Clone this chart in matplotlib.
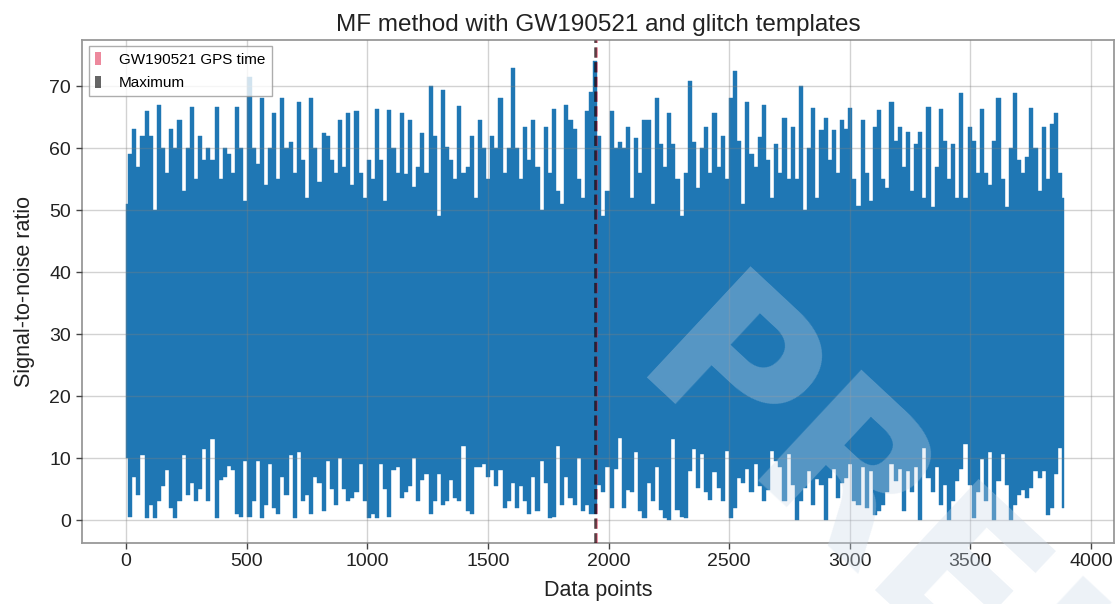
import numpy as np
import matplotlib
matplotlib.use("Agg")
import matplotlib.pyplot as plt
from matplotlib.patches import Patch

# SNR readings per short stretch of samples: local max (upper) and local min (lower)
upper_snr = [
    51, 59, 63, 57, 62, 66, 62, 50, 67, 60,
    56, 63, 60, 64.5, 53, 60, 66.6, 55, 62, 58,
    60, 58, 66.6, 55, 60, 59, 56, 66.6, 60, 51.5,
    71.5, 60, 57.5, 68, 54, 60, 65.6, 55, 68, 60,
    61, 56, 67.5, 58, 52, 68, 60, 54.5, 62.5, 62,
    58, 56, 64.5, 57, 65.6, 54, 66, 56, 52, 58,
    55, 66.3, 58, 51.5, 66.1, 60, 56, 65.6, 55.8, 64.5,
    53.7, 57, 62.5, 56, 70, 62, 49, 69.4, 60.2, 58,
    55, 66.8, 56, 57, 62, 52, 64.5, 60, 55, 62,
    60, 68, 56, 60, 72.9, 60, 55, 63.4, 58, 64.5,
    57, 50, 63.4, 56, 66.3, 53, 51, 67,
    64.5, 63, 55, 52, 66, 69, 74, 62, 49, 53,
    66, 60, 61, 60, 63.4, 52, 61.6, 56, 64.5, 64.5,
    51, 68, 60.6, 57, 65.6, 60.6, 55, 49, 56, 70.8,
    61, 53.5, 60, 63.4, 56, 65.6, 57, 62, 55, 68,
    72.4, 61.2, 51, 67.5, 59, 57, 61.7, 66.9, 58, 52,
    60.6, 56, 64.9, 55, 63.4, 55, 70, 50, 60, 66.5,
    52, 62.9, 64.8, 58, 62.9, 56, 64.5, 63.1, 66.5, 55,
    50.6, 64.5, 56, 51.5, 63.4, 66.1, 55, 53.5, 67.5, 61.2,
    63.4, 57, 62.6, 53, 60.7, 62.6, 52, 66.6, 50.5, 57,
    66.3, 61.2, 55, 60.6, 52, 68.8, 52, 63.4, 61.2, 56,
    66.3, 56, 54, 61.2, 68, 55, 50.5, 60, 68.8, 58,
    56, 58.6, 66.5, 60, 53, 63.4, 55, 63.8, 65.6, 56,
    52,
]
lower_snr = [
    10, 0.5, 7, 4, 10.5, 0.3, 2.5, 0.3, 3, 5.5,
    8, 2, 0.3, 3, 10.5, 4, 6, 3, 5, 11.5,
    3, 13, 0.3, 6.5, 7, 8.7, 8, 1, 0.5, 9.5,
    0.5, 3, 9.5, 0.3, 2.5, 9, 2, 1, 7, 4,
    10.5, 0.3, 11, 3, 4, 1, 7, 6, 1.5, 9.5,
    5, 2.5, 10, 5, 3, 3.5, 4.5, 9, 3, 0.3,
    1, 0.3, 9, 5, 0.5, 8, 8.5, 3.5, 4.5, 5.5,
    10, 3, 6.5, 7.5, 1, 3, 7.5, 2.5, 3, 6.5,
    3.5, 3, 12, 1.5, 1, 8.5, 8.5, 9, 7, 8,
    5.5, 8, 2, 3, 6, 2, 5.5, 3, 1, 7,
    1.5, 9.5, 6, 0.3, 0.5, 12, 2.5, 7,
    3.5, 2.5, 10, 1.5, 2.5, 1, 1,
    5.7, 4.6, 8.5, 1.9, 8.2, 13.3, 1.9, 4.9, 4.6, 10.9,
    1.4, 0.3, 6, 3, 8.5, 1.6, 0.3, 0, 13,
    1.6, 0.5, 0.3, 7.9, 11.5, 5.2, 10.7, 4.6, 3.3, 7.7,
    5.2, 3, 11.2, 0.3, 1.9, 6.8, 6, 8.2, 4.6, 9,
    5.5, 3, 4.9, 11.2, 9.6, 8.5, 3, 10.7, 5.7,
    0, 3, 5.2, 7.9, 2.5, 6.6, 5.7, 0, 6.8, 8.2,
    3.6, 6, 6.8, 9, 3, 2.5, 8.5, 1.9, 7.9, 0.8,
    1.4, 2.5, 4.6, 9, 6.3, 8.2, 1.4, 7.9, 4.6, 8.5,
    0, 11.7, 6.8, 4.6, 8.5, 2.5, 5.7, 0, 3, 6.3,
    8.2, 12.3, 5.7, 0.3, 4.6, 9.8, 3, 10.9, 0, 6.3,
    10.7, 5.7, 0, 2.5, 4.1, 4.9, 3.6, 5.2, 7.9,
    6.8, 7.9, 0.8, 1.9, 7.4, 11.7, 1.9,
]
n_samples = 3890      # length of the SNR series
gps_index = 1950      # sample of the GW190521 GPS time

x_ticks = [0, 500, 1000, 1500, 2000, 2500, 3000, 3500, 4000]
y_ticks = [0, 10, 20, 30, 40, 50, 60, 70]

plt.rcParams["font.family"] = ["Liberation Sans", "DejaVu Sans"]

upper = np.array(upper_snr)
lower = np.array(lower_snr)
idx = np.linspace(0, n_samples - 1, upper.size)

fig = plt.figure(figsize=(11.17, 6.04), dpi=100)
ax = fig.add_axes([0.0731, 0.101, 0.9242, 0.8336])

# the trace oscillates so fast that it fills the band between its local min and max
ax.fill_between(idx, lower, upper, step="mid", color="#1f77b4", lw=0.3,
                edgecolor="#1f77b4", zorder=2)
ax.axvline(gps_index, color="crimson", alpha=0.5, ls="--", lw=2, zorder=3)
ax.axvline(idx[np.argmax(upper)], color="black", alpha=0.6, ls="--", lw=2, zorder=3)

ax.set_xlim(-184, 4095)
ax.set_ylim(-3.7, 77.5)
ax.set_xticks(x_ticks)
ax.set_yticks(y_ticks)
ax.set_axisbelow(False)
ax.grid(True, color="gray", alpha=0.35, lw=1)
ax.tick_params(direction="out", length=4, width=1, colors="#444444",
               labelcolor="#222222", labelsize=14)
for s in ax.spines.values():
    s.set_color("#999999")
    s.set_linewidth(1.3)

ax.set_title("MF method with GW190521 and glitch templates", fontsize=17.5, color="#222222")
ax.set_xlabel("Data points", fontsize=15.5, color="#222222", labelpad=7)
ax.set_ylabel("Signal-to-noise ratio", fontsize=15.5, color="#222222", labelpad=10.5)

handles = [Patch(facecolor="crimson", alpha=0.5, label="GW190521 GPS time"),
           Patch(facecolor="black", alpha=0.6, label="Maximum")]
ax.legend(handles=handles, loc="upper left", fontsize=11, handlelength=0.4,
          handleheight=0.9, handletextpad=1.2, labelspacing=0.55, fancybox=False,
          framealpha=0.8, edgecolor="#999999", borderaxespad=0.45)

fig.text(0.597, 0.446, "PRELIMINARY", fontsize=150, fontweight="bold",
         family="DejaVu Sans", color="#c9d8e8", alpha=0.33, rotation=-43,
         rotation_mode="anchor", ha="left", va="center", zorder=5)

fig.savefig("out.png", dpi=100)
